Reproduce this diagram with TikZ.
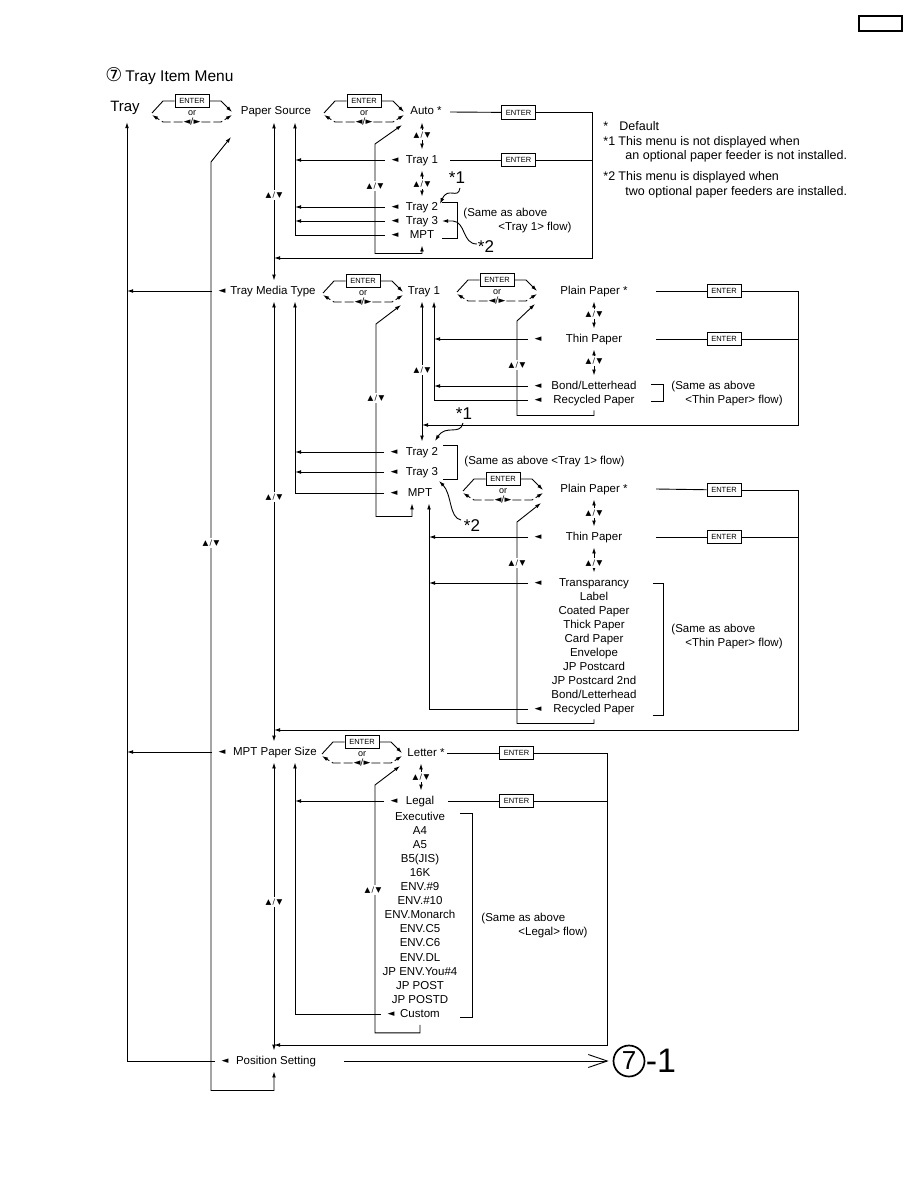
\documentclass[tikz,border=0pt]{standalone}
\usepackage{fontspec}
\setmainfont{Liberation Sans}
\newfontfamily\symfont{DejaVu Sans}
\usetikzlibrary{arrows.meta,positioning}

\newcommand{\itemfont}{\fontsize{11.5}{13}\selectfont}
\newcommand{\lmark}{{\symfont ◄}}
\newcommand{\updown}{{\symfont ▲\,/\,▼}}
\newcommand{\lrkeys}{{\symfont ◄/►}}

\begin{document}
\begin{tikzpicture}[x=1pt, y=-1pt, line width=0.9pt,
  item/.style={font=\itemfont, inner xsep=2pt, inner ysep=4.5pt, text height=8.5pt, text depth=2.5pt},
  trayitem/.style={font=\fontsize{15}{15}\selectfont, inner sep=0pt},
  note/.style={item, anchor=west, inner xsep=0pt},
  legend/.style={note, font=\fontsize{12.5}{14}\selectfont},
  mk/.style={font=\fontsize{9}{9}\selectfont, inner sep=0pt},
  ud/.style={fill=white, inner xsep=0.5pt, inner ysep=1.5pt, font=\fontsize{7.5}{8}\selectfont},
  keybox/.style={draw, line width=1pt, fill=white, minimum width=34pt, minimum height=13.5pt,
    inner sep=0pt, font=\fontsize{7.5}{7.5}\selectfont},
  tinytxt/.style={inner sep=0.5pt, fill=white, font=\fontsize{9}{9}\selectfont},
  star/.style={font=\fontsize{17}{17}\selectfont, inner sep=0pt},
  arr/.style={-{Latex[length=6pt,width=3.8pt]}},
  darr/.style={{Latex[length=6pt,width=3.8pt]}-{Latex[length=6pt,width=3.8pt]}},
  brokenline/.style={dash pattern=on 9pt off 3pt},
  entergroup/.pic={
    \node[keybox] (-key) at (0,-11) {ENTER};
    \node[tinytxt] (-or) at (0,1.5) {or};
    \node[tinytxt] (-lr) at (0,10) {\lrkeys};
    \coordinate (-in) at (38,13);
    \draw (-40,1) -- (-29,-11) -- (-key.west);
    \draw[arr] (-key.east) -- (29,-11) -- (40,0);
    \draw[arr, brokenline] (-lr.west) -- (-29,10) -- (-40,3);
    \draw[arr, brokenline] (-lr.east) -- (29,10) -- (40,3);
  }
]
\useasboundingbox (0,0) rectangle (918,1188);

% page tab and title
\node[draw, line width=1.3pt, minimum width=43pt, minimum height=15pt, inner sep=0pt] (pagebox) at (880.5,23.5) {};
\node[anchor=west, inner sep=0pt, font=\fontsize{15.5}{15.5}\selectfont] (title) at (105,76)
  {{\symfont\fontsize{19}{19}\selectfont ⑦}\hspace{3pt}Tray Item Menu};

% bus lines
\coordinate (busA) at (127,0);
\coordinate (busC) at (274,0);
\coordinate (busD) at (295,0);
\coordinate (v1) at (422,0);
\coordinate (v2) at (422,0);
\coordinate (v3) at (434,0);
\coordinate (v4) at (429,0);
\coordinate (v6) at (421,0);
\coordinate (xl1) at (450,0);
\coordinate (xl2) at (656,0);
\coordinate (xl3) at (448,0);
\coordinate (r1) at (592,258);
\coordinate (r2) at (798,425);
\coordinate (r3) at (798,730);
\coordinate (r4) at (607,1045);
\coordinate (psin) at (231,137);

% menu items
\node[trayitem] (tray) at (125,108) {Tray};
\node[item] (ps) at (276,112) {Paper Source};
\node[item] (auto) at (426,112) {Auto *};
\node[item] (pt1) at (422,160) {Tray 1};
\node[item] (pt2) at (422,207) {Tray 2};
\node[item] (pt3) at (422,221) {Tray 3};
\node[item] (pmpt) at (422,235) {MPT};

\node[item] (tmt) at (273,291) {Tray Media Type};
\node[item] (mt1) at (424,291) {Tray 1};
\node[item] (pp1) at (594,291) {Plain Paper *};
\node[item] (thin1) at (594,339) {Thin Paper};
\node[item] (bond1) at (594,386) {Bond/Letterhead};
\node[item] (rec1) at (594,400) {Recycled Paper};
\node[item] (mt2) at (422,452) {Tray 2};
\node[item] (mt3) at (422,472) {Tray 3};
\node[item] (mmpt) at (420,493) {MPT};
\node[item] (pp2) at (594,489) {Plain Paper *};
\node[item] (thin2) at (594,537) {Thin Paper};
\node[item] (trans) at (594,583) {Transparancy};
\foreach \t [count=\i] in {Label, Coated Paper, Thick Paper, Card Paper, Envelope, JP Postcard, JP Postcard 2nd, Bond/Letterhead}
  \node[item] (media\i) at (594,{583+14*\i}) {\t};
\node[item] (rec2) at (594,709) {Recycled Paper};

\node[item] (mps) at (275,752) {MPT Paper Size};
\node[item] (letter) at (426,753) {Letter *};
\node[item] (legal) at (420,801) {Legal};
\foreach \t [count=\i from 0] in {Executive, A4, A5, B5(JIS), 16K, ENV.\#9, ENV.\#10, ENV.Monarch, ENV.C5, ENV.C6, ENV.DL, JP ENV.You\#4, JP POST, JP POSTD}
  \node[item] (size\i) at (420,{817+14.1*\i}) {\t};
\node[item] (custom) at (420,1014.4) {Custom};
\node[item] (pos) at (276,1061) {Position Setting};

% pointers
\foreach \n/\x/\y in {mpt1/395/160, mpt2/395/207, mpt3/395/221, mpmpt/395/235, mtmt/222/291,
    mthin1/538/339, mbond1/538/386, mrec1/538/400, mmt2/394/452, mmt3/394/472, mmmpt/394/493,
    mthin2/538/537, mtrans/538/583, mrec2/538/709, mmps/222/752, mlegal/394/801,
    mcustom/391/1014.4, mpos/225/1061}
  \node[mk] (\n) at (\x,\y) {\lmark};

% enter keys
\node[keybox] (k1) at (518.5,112.5) {ENTER};
\node[keybox] (k2) at (518.5,160) {ENTER};
\node[keybox] (k3) at (724,291) {ENTER};
\node[keybox] (k4) at (724,339) {ENTER};
\node[keybox] (k5) at (724,490) {ENTER};
\node[keybox] (k6) at (724,537) {ENTER};
\node[keybox] (k7) at (516.5,753) {ENTER};
\node[keybox] (k8) at (516.5,801) {ENTER};

% enter or left/right
\pic (g1) at (192,112) {entergroup};
\pic (g2) at (364,112) {entergroup};
\pic (g3) at (363,292) {entergroup};
\pic (g4) at (497,291) {entergroup};
\pic (g5) at (503,490) {entergroup};
\pic (g6) at (362,753) {entergroup};

% top level ring
\draw[arr] ([xshift=-6]mtmt.west) -- (mtmt -| busA);
\draw[arr] ([xshift=-6]mmps.west) -- (mmps -| busA);
\draw[arr] ([xshift=-6]mpos.west) -| ([yshift=-7]tray.south -| busA);
\draw[darr] (ps.south -| busC) -- (tmt.north -| busC);
\draw[darr] (tmt.south -| busC) -- (mps.north -| busC);
\draw[darr] (mps.south -| busC) -- (pos.north -| busC);
\draw[darr] (pos.south -| busC) -- ++(0,19) -| ([xshift=-20,yshift=-25]psin) -- (psin);

% paper source
\draw (auto -| xl1) -- (k1);
\draw[arr] (k1) -| (r1) -- (r1 -| busC);
\draw (pt1 -| xl1) -- (k2) -- (k2 -| r1);
\draw[darr] (auto.south -| v1) -- (pt1.north -| v1);
\draw[darr] (pt1.south -| v1) -- (pt2.north -| v1);
\draw[arr] ([xshift=-6]mpt1.west) -- (mpt1 -| busD);
\draw[arr] ([xshift=-6]mpt2.west) -- (mpt2 -| busD);
\draw[arr] ([xshift=-6]mpt3.west) -- (mpt3 -| busD);
\draw[arr] ([xshift=-6]mpmpt.west) -| (ps.south -| busD);
\draw[darr] (pmpt.south -| v1) -- ++(0,8) -| ([xshift=-27,yshift=-19]g2-in) -- (g2-in);
\draw (442,202) -| (457,238) -- (442,238);
\node[note] (nt1a) at (463,213) {(Same as above};
\node[note] (nt1b) at (498,227) {<Tray 1> flow)};
\node[star] (s1a) at (457,178) {*1};
\node[star] (s2a) at (486,247) {*2};
\draw[arr] (460,188) .. controls (458,200) and (448,186) .. (440,204);
\draw[arr] (477,244) .. controls (462,244) and (466,222) .. (453,221) -- (442,221);

% tray media type
\draw (pp1 -| xl2) -- (k3);
\draw[arr] (k3) -| (r2) -- (r2 -| v2);
\draw (thin1 -| xl2) -- (k4) -- (k4 -| r2);
\draw[darr] (pp1.south) -- (thin1.north);
\draw[darr] (thin1.south) -- (bond1.north);
\draw[arr] ([xshift=-6]mthin1.west) -- (mthin1 -| v3);
\draw[arr] ([xshift=-6]mbond1.west) -- (mbond1 -| v3);
\draw[arr] ([xshift=-6]mrec1.west) -| (mt1.south -| v3);
\draw[darr] (mt1.south -| v2) -- (mt2.north -| v2);
\draw[arr] (rec1.south) -- ++(0,5) -| ([xshift=-18,yshift=-17]g4-in) -- (g4-in);
\draw (651,384) -| (663,401) -- (651,401);
\node[note] (nt2a) at (671,386) {(Same as above};
\node[note] (nt2b) at (685,400) {<Thin Paper> flow)};

\draw[arr] ([xshift=-6]mmt2.west) -- (mmt2 -| busD);
\draw[arr] ([xshift=-6]mmt3.west) -- (mmt3 -| busD);
\draw[arr] ([xshift=-6]mmmpt.west) -| (tmt.south -| busD);
\draw (443,445) -| (457,479) -- (443,479);
\node[note] (nt3) at (464,461) {(Same as above <Tray 1> flow)};
\node[star] (s1b) at (464,414) {*1};
\node[star] (s2b) at (472,526) {*2};
\draw[arr] (463,423) .. controls (460,436) and (446,424) .. (435,441);
\draw[arr] (461,520) .. controls (449,518) and (452,494) .. (439,481);
\draw[darr] ([xshift=-8]mmpt.south) -- ++(0,13) -| ([xshift=-25,yshift=-19]g3-in) -- (g3-in);

\draw[arr] ([xshift=-6]mrec2.west) -| ([xshift=9]mmpt.south);
\draw[arr] ([xshift=-6]mthin2.west) -- (mthin2 -| v4);
\draw[arr] ([xshift=-6]mtrans.west) -- (mtrans -| v4);
\draw (pp2 -| xl2) -- (k5);
\draw[arr] (k5) -| (r3) -- (r3 -| busC);
\draw (thin2 -| xl2) -- (k6) -- (k6 -| r3);
\draw[darr] (pp2.south) -- (thin2.north);
\draw[darr] (thin2.south) -- (trans.north);
\draw[arr] (rec2.south) -- ++(0,4) -| ([xshift=-24,yshift=-19]g5-in) -- (g5-in);
\draw (653,583) -| (663,715) -- (653,715);
\node[note] (nt4a) at (671,629) {(Same as above};
\node[note] (nt4b) at (685,643) {<Thin Paper> flow)};

% mpt paper size
\draw (letter.east) -- (k7);
\draw[arr] (k7) -| (r4) -- (r4 -| busC);
\draw (legal -| xl3) -- (k8) -- (k8 -| r4);
\draw[darr] (letter.south -| v6) -- (legal.north -| v6);
\draw[arr] ([xshift=-6]mlegal.west) -- (mlegal -| busD);
\draw[arr] ([xshift=-6]mcustom.west) -| (mps.south -| busD);
\draw[arr] (custom.south) -- ++(0,8) -| ([xshift=-25,yshift=-19]g6-in) -- (g6-in);
\draw (460,813) -| (472,1017) -- (460,1017);
\node[note] (nt5a) at (481,918) {(Same as above};
\node[note] (nt5b) at (518,932) {<Legal> flow)};

% position setting
\node[circle, draw, line width=1.7pt, minimum size=31pt, inner sep=0pt, font=\fontsize{26}{26}\selectfont] (c71) at (629,1061) {7};
\node[anchor=west, inner sep=0pt, font=\fontsize{34}{34}\selectfont] (sub1) at (c71.east) {-1};
\draw[-{Straight Barb[length=19pt,width=13pt]}] ([xshift=26]pos.east) -- ([xshift=-4]c71.west);

% scroll labels
\foreach \x/\y [count=\i] in {274/195, 422/135, 422/184, 375/186, 274/497, 594/314, 594/361, 422/370,
    517/365, 376/398, 594/513, 594/563, 517/563, 274/902, 421/777, 373/890, 211/543}
  \node[ud] (ud\i) at (\x,\y) {\updown};

% legend
\node[legend] (lg1) at (603,128) {*};
\node[legend] (lg2) at (619,128) {Default};
\node[legend] (lg3) at (603,143) {*1};
\node[legend] (lg4) at (618,143) {This menu is not displayed when};
\node[legend] (lg5) at (625,157) {an optional paper feeder is not installed.};
\node[legend] (lg6) at (603,177) {*2};
\node[legend] (lg7) at (618,177) {This menu is displayed when};
\node[legend] (lg8) at (625,192) {two optional paper feeders are installed.};
\end{tikzpicture}
\end{document}
